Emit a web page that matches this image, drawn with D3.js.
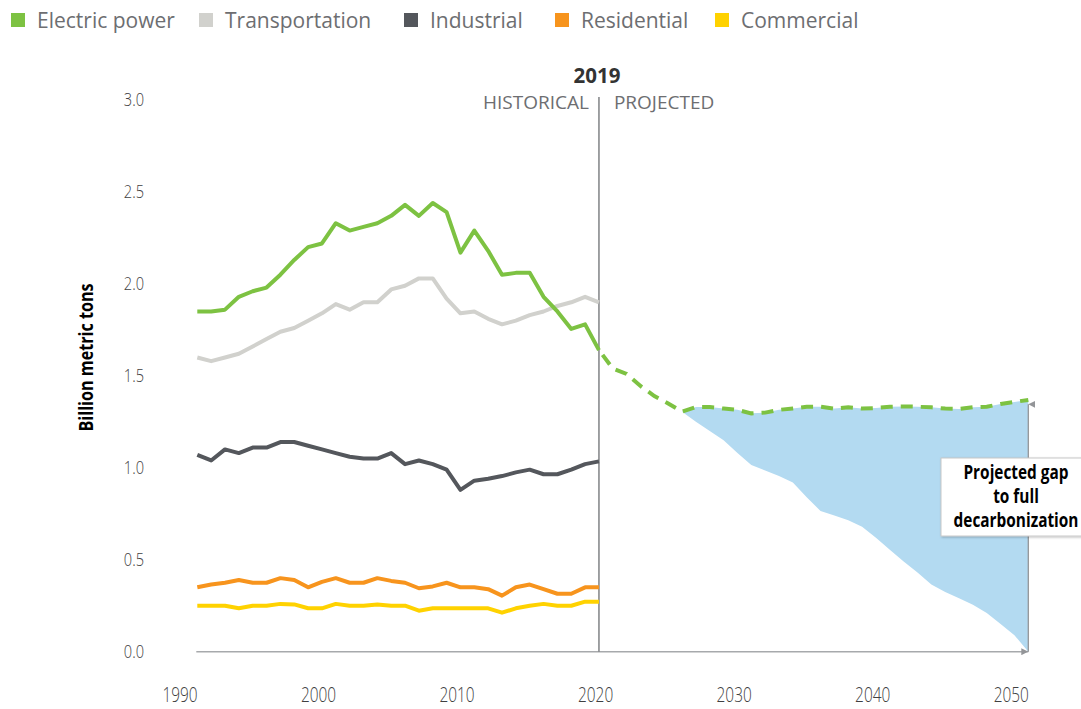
<!DOCTYPE html>
<html>
<head>
<meta charset="utf-8">
<script src="https://cdn.jsdelivr.net/npm/d3@7"></script>
<style>
  html, body { margin: 0; padding: 0; background: #ffffff; }
  svg { display: block; }
</style>
</head>
<body>
<svg id="chart" width="1081" height="709"></svg>
<script>
// ---------- DATA ----------
const seriesNames = ["Electric power", "Transportation", "Industrial", "Residential", "Commercial"];
const seriesColors = ["#7dc242", "#d1d1cd", "#54575c", "#f7941d", "#ffd200"];

const histYears = [1990,1991,1992,1993,1994,1995,1996,1997,1998,1999,
                   2000,2001,2002,2003,2004,2005,2006,2007,2008,2009,
                   2010,2011,2012,2013,2014,2015,2016,2017,2018,2019];

const electricPower = [1.85,1.85,1.86,1.93,1.96,1.98,2.05,2.13,2.20,2.22,
                       2.33,2.29,2.31,2.33,2.37,2.43,2.37,2.44,2.39,2.17,
                       2.29,2.18,2.05,2.06,2.06,1.93,1.85,1.755,1.78,1.64];
const transportation = [1.60,1.58,1.60,1.62,1.66,1.70,1.74,1.76,1.80,1.84,
                        1.89,1.86,1.90,1.90,1.97,1.99,2.03,2.03,1.92,1.84,
                        1.85,1.81,1.78,1.80,1.83,1.85,1.88,1.90,1.93,1.90];
const industrial = [1.07,1.04,1.10,1.08,1.11,1.11,1.14,1.14,1.12,1.10,
                    1.08,1.06,1.05,1.05,1.08,1.02,1.04,1.02,0.99,0.88,
                    0.93,0.94,0.955,0.975,0.99,0.965,0.965,0.99,1.02,1.035];
const residential = [0.35,0.365,0.375,0.39,0.375,0.375,0.40,0.39,0.35,0.38,
                     0.40,0.375,0.375,0.40,0.385,0.375,0.345,0.355,0.375,0.35,
                     0.35,0.34,0.305,0.35,0.365,0.34,0.315,0.315,0.35,0.35];
const commercial = [0.25,0.25,0.25,0.236,0.25,0.25,0.26,0.257,0.236,0.236,
                    0.26,0.25,0.25,0.257,0.25,0.25,0.223,0.236,0.236,0.236,
                    0.236,0.236,0.212,0.236,0.25,0.26,0.25,0.25,0.272,0.272];

const projYears = [2019,2020,2021,2022,2023,2024,2025,2026,2027,2028,2029,
                   2030,2031,2032,2033,2034,2035,2036,2037,2038,2039,
                   2040,2041,2042,2043,2044,2045,2046,2047,2048,2049,2050];
const electricProjected = [1.64,1.54,1.51,1.445,1.39,1.35,1.305,1.33,1.33,1.322,1.315,
                           1.296,1.30,1.315,1.323,1.332,1.332,1.322,1.329,1.322,1.325,
                           1.332,1.334,1.332,1.329,1.322,1.32,1.329,1.332,1.347,1.358,1.369];

const gapYears = [2025,2026,2027,2028,2029,2030,2031,2032,2033,2034,2035,2036,2037,
                  2038,2039,2040,2041,2042,2043,2044,2045,2046,2047,2048,2049,2050];
const decarbPath = [1.305,1.25,1.20,1.15,1.08,1.015,0.985,0.955,0.92,0.84,0.765,0.74,0.715,
                    0.68,0.62,0.555,0.49,0.43,0.365,0.325,0.29,0.255,0.21,0.15,0.09,0.0];

const yTicks = [0, 0.5, 1.0, 1.5, 2.0, 2.5, 3.0];
const xTicks = [1990, 2000, 2010, 2020, 2030, 2040, 2050];
const dividerYear = 2019;
const yTitle = "Billion metric tons";
const annotationLines = ["Projected gap", "to full", "decarbonization"];

// ---------- LAYOUT ----------
const legendX = [11, 199, 404, 555, 715];
const condense = 0.79;   // horizontal squeeze emulating a condensed face
const condFont = "'Open Sans', 'Liberation Sans', sans-serif";

// ---------- CHART ----------
const svg = d3.select("#chart");

const x = d3.scaleLinear().domain([1990, 2050]).range([197.3, 1028.3]);
// tick labels in the reference sit about 1.26 years left of the data positions
const xLabel = d3.scaleLinear().domain([1990, 2050]).range([179.5, 1010.7]);
const y = d3.scaleLinear().domain([0, 3]).range([651.7, 100]);

const series = [electricPower, transportation, industrial, residential, commercial];

// Blue gap area
const gapData = gapYears.map((yr, i) => ({
  yr,
  top: electricProjected[projYears.indexOf(yr)],
  bottom: decarbPath[i]
}));
svg.append("path")
  .datum(gapData)
  .attr("fill", "#b3daf1")
  .attr("d", d3.area().x(d => x(d.yr)).y0(d => y(d.bottom)).y1(d => y(d.top)));

// Axis baseline
svg.append("line")
  .attr("x1", x(1990) - 1).attr("x2", x(2050))
  .attr("y1", y(0)).attr("y2", y(0))
  .attr("stroke", "#a7a9ac").attr("stroke-width", 1.5);

// Divider
svg.append("line")
  .attr("x1", x(dividerYear)).attr("x2", x(dividerYear))
  .attr("y1", 97).attr("y2", y(0))
  .attr("stroke", "#808285").attr("stroke-width", 1.5);

// Historical lines
const line = d3.line().x((d, i) => x(histYears[i])).y(d => y(d));
for (let s = series.length - 1; s >= 0; s--) {
  svg.append("path")
    .datum(series[s])
    .attr("fill", "none")
    .attr("stroke", seriesColors[s])
    .attr("stroke-width", 4)
    .attr("stroke-linejoin", "round")
    .attr("d", line);
}

// Projected dashed electric power
svg.append("path")
  .datum(electricProjected)
  .attr("fill", "none")
  .attr("stroke", seriesColors[0])
  .attr("stroke-width", 4)
  .attr("stroke-dasharray", "12,8")
  .attr("stroke-dashoffset", -6)
  .attr("d", d3.line().x((d, i) => x(projYears[i])).y(d => y(d)));

// Y axis
const yAxis = svg.append("g")
  .attr("transform", "translate(144,0)")
  .call(d3.axisLeft(y).tickValues(yTicks).tickFormat(d3.format(".1f")).tickSize(0).tickPadding(0));
yAxis.select(".domain").remove();
yAxis.selectAll("text")
  .attr("font-family", condFont)
  .attr("font-weight", 300)
  .attr("font-size", 18.5)
  .attr("fill", "#404041")
  .attr("transform", `scale(${condense},1)`);

// X axis
const xAxis = svg.append("g")
  .attr("transform", `translate(0,${687})`)
  .call(d3.axisBottom(xLabel).tickValues(xTicks).tickFormat(d3.format("d")).tickSize(0).tickPadding(0));
xAxis.select(".domain").remove();
xAxis.selectAll("text")
  .attr("font-family", condFont)
  .attr("font-weight", 300)
  .attr("font-size", 19.5)
  .attr("dy", "0.75em")
  .attr("fill", "#404041")
  .attr("transform", `scale(${condense},1)`);

// Y title
svg.append("text")
  .attr("transform", `translate(93,${y(1.6)}) rotate(-90) scale(0.85,1)`)
  .attr("text-anchor", "middle")
  .attr("font-family", condFont)
  .attr("font-size", 19)
  .attr("font-weight", "bold")
  .attr("fill", "#000")
  .text(yTitle);

// Divider labels
svg.append("text")
  .attr("x", x(dividerYear) - 2).attr("y", 83)
  .attr("text-anchor", "middle")
  .attr("font-family", "'Open Sans', sans-serif")
  .attr("font-weight", "bold")
  .attr("font-size", 20.5)
  .attr("fill", "#333")
  .text(String(dividerYear));
svg.append("text")
  .attr("x", x(dividerYear) - 10).attr("y", 109)
  .attr("text-anchor", "end")
  .attr("font-family", "'Open Sans', sans-serif")
  .attr("font-size", 19)
  .attr("fill", "#6d6e71")
  .text("HISTORICAL");
svg.append("text")
  .attr("x", x(dividerYear) + 15).attr("y", 109)
  .attr("text-anchor", "start")
  .attr("font-family", "'Open Sans', sans-serif")
  .attr("font-size", 19)
  .attr("fill", "#6d6e71")
  .text("PROJECTED");

// Annotation arrow
const defs = svg.append("defs");
defs.append("marker").attr("id", "arrUp")
  .attr("viewBox", "0 0 10 10").attr("refX", 5).attr("refY", 0)
  .attr("markerWidth", 7).attr("markerHeight", 7).attr("orient", "auto-start-reverse")
  .attr("markerUnits", "userSpaceOnUse")
  .append("path").attr("d", "M0,10 L5,0 L10,10 Z").attr("fill", "#939598");
const filt = defs.append("filter").attr("id", "shadow").attr("x", "-10%").attr("y", "-10%").attr("width", "130%").attr("height", "130%");
filt.append("feDropShadow").attr("dx", 1).attr("dy", 1).attr("stdDeviation", 1.2).attr("flood-color", "#000").attr("flood-opacity", 0.25);

svg.append("line")
  .attr("x1", x(2050)).attr("x2", x(2050))
  .attr("y1", y(1.345)).attr("y2", y(0))
  .attr("stroke", "#939598").attr("stroke-width", 1.3)
  .attr("marker-start", "url(#arrUp)")
  .attr("marker-end", "url(#arrUp)");

// Annotation box
svg.append("rect")
  .attr("x", 941).attr("y", 458).attr("width", 160).attr("height", 78)
  .attr("fill", "#fff").attr("stroke", "#c8c8c8").attr("stroke-width", 1)
  .attr("filter", "url(#shadow)");
const annG = svg.append("g")
  .attr("transform", `translate(1016,0) scale(${condense - 0.02},1)`);
annotationLines.forEach((txt, i) => {
  annG.append("text")
    .attr("x", 0).attr("y", 479 + i * 24)
    .attr("text-anchor", "middle")
    .attr("font-family", condFont)
    .attr("font-size", 20)
    .attr("font-weight", "bold")
    .attr("fill", "#000")
    .text(txt);
});

// Legend
const legend = svg.append("g");
seriesNames.forEach((name, i) => {
  legend.append("rect")
    .attr("x", legendX[i]).attr("y", 13).attr("width", 14).attr("height", 14)
    .attr("fill", seriesColors[i]);
  legend.append("text")
    .attr("x", legendX[i] + 26).attr("y", 27.5)
    .attr("font-family", "'Open Sans', sans-serif")
    .attr("font-size", 21)
    .attr("fill", "#6d6e71")
    .text(name);
});
</script>
</body>
</html>
